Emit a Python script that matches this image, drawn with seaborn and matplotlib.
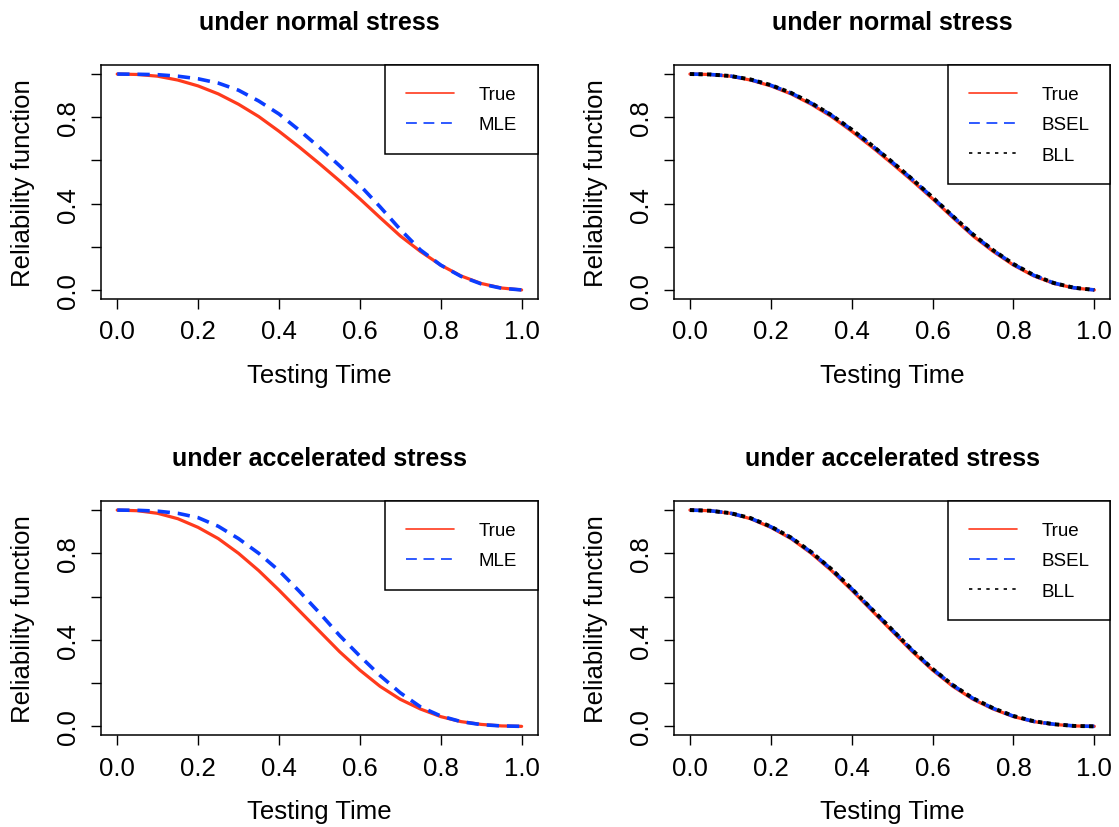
import matplotlib
matplotlib.use("Agg")
import matplotlib.pyplot as plt
import seaborn as sns
import pandas as pd

# testing time grid (every 0.05)
t_grid = [0.00, 0.05, 0.10, 0.15, 0.20, 0.25, 0.30, 0.35, 0.40, 0.45, 0.50,
          0.55, 0.60, 0.65, 0.70, 0.75, 0.80, 0.85, 0.90, 0.95, 1.00]

# under normal stress
normal_true = [1.000, 0.998, 0.990, 0.972, 0.945, 0.908, 0.860, 0.803, 0.735, 0.662, 0.585,
               0.505, 0.422, 0.335, 0.250, 0.178, 0.115, 0.065, 0.030, 0.009, 0.000]
normal_mle = [1.000, 0.999, 0.997, 0.990, 0.978, 0.958, 0.925, 0.875, 0.815, 0.740, 0.660,
              0.575, 0.485, 0.385, 0.280, 0.185, 0.115, 0.063, 0.028, 0.008, 0.000]
normal_bsel = [1.000, 0.998, 0.991, 0.974, 0.948, 0.912, 0.865, 0.809, 0.742, 0.669, 0.592,
               0.512, 0.428, 0.341, 0.256, 0.183, 0.119, 0.068, 0.032, 0.010, 0.000]
normal_bll = [1.000, 0.998, 0.991, 0.975, 0.949, 0.913, 0.866, 0.810, 0.743, 0.670, 0.593,
              0.513, 0.429, 0.342, 0.257, 0.184, 0.120, 0.069, 0.032, 0.010, 0.000]

# under accelerated stress
accel_true = [1.000, 0.997, 0.985, 0.960, 0.920, 0.868, 0.800, 0.720, 0.630, 0.535, 0.440,
              0.345, 0.260, 0.185, 0.125, 0.080, 0.045, 0.022, 0.009, 0.002, 0.000]
accel_mle = [1.000, 0.999, 0.995, 0.985, 0.965, 0.925, 0.868, 0.800, 0.720, 0.625, 0.525,
             0.420, 0.325, 0.235, 0.155, 0.090, 0.048, 0.022, 0.008, 0.002, 0.000]
accel_bsel = [1.000, 0.997, 0.986, 0.962, 0.923, 0.872, 0.805, 0.726, 0.636, 0.541, 0.446,
              0.351, 0.265, 0.190, 0.129, 0.083, 0.047, 0.023, 0.010, 0.002, 0.000]
accel_bll = [1.000, 0.997, 0.986, 0.963, 0.924, 0.873, 0.806, 0.727, 0.637, 0.542, 0.447,
             0.352, 0.266, 0.191, 0.130, 0.084, 0.048, 0.024, 0.010, 0.002, 0.000]

tick_vals = [0.0, 0.2, 0.4, 0.6, 0.8, 1.0]
x_ticklabels = ["0.0", "0.2", "0.4", "0.6", "0.8", "1.0"]
y_ticklabels = ["0.0", "", "0.4", "", "0.8", ""]

RED = "#FF3A1C"
BLUE = "#0B3DFF"

sns.set_style("ticks")
plt.rcParams["font.family"] = ["Liberation Sans", "DejaVu Sans"]
plt.rcParams["text.color"] = "black"
plt.rcParams["axes.labelcolor"] = "black"
plt.rcParams["xtick.color"] = "black"
plt.rcParams["ytick.color"] = "black"

fig = plt.figure(figsize=(11.19, 8.28), dpi=100)

# axes boxes in figure fractions (left, bottom, width, height)
positions = [
    [0.0903, 0.6382, 0.3903, 0.2816],
    [0.6021, 0.6382, 0.3903, 0.2816],
    [0.0903, 0.1111, 0.3903, 0.2821],
    [0.6021, 0.1111, 0.3903, 0.2821],
]

panels = [
    ("under normal stress", [("True", normal_true), ("MLE", normal_mle)]),
    ("under normal stress", [("True", normal_true), ("BSEL", normal_bsel), ("BLL", normal_bll)]),
    ("under accelerated stress", [("True", accel_true), ("MLE", accel_mle)]),
    ("under accelerated stress", [("True", accel_true), ("BSEL", accel_bsel), ("BLL", accel_bll)]),
]

styles = {
    "True": dict(color=RED, linewidth=2.3, linestyle="-"),
    "MLE": dict(color=BLUE, linewidth=2.6, linestyle=(0, (3.4, 2.2))),
    "BSEL": dict(color=BLUE, linewidth=2.6, linestyle=(0, (3.4, 2.2))),
    "BLL": dict(color="black", linewidth=2.8, linestyle=(0, (1.1, 1.1))),
}
# dash patterns of the thin legend keys
legend_dashes = {"True": None, "MLE": (6.5, 4.0), "BSEL": (6.5, 4.0), "BLL": (2.0, 3.2)}

for pos, (title, series) in zip(positions, panels):
    ax = fig.add_axes(pos)
    for name, vals in series:
        df = pd.DataFrame({"time": t_grid, "R": vals})
        sns.lineplot(data=df, x="time", y="R", ax=ax, label=name, **styles[name])

    ax.set_xlim(-0.04, 1.04)
    ax.set_ylim(-0.04, 1.04)
    ax.set_xticks(tick_vals)
    ax.set_xticklabels(x_ticklabels)
    ax.set_yticks(tick_vals)
    ax.set_yticklabels(y_ticklabels, rotation=90, va="center")
    ax.tick_params(axis="both", labelsize=18.5, length=7, width=1, color="black",
                   labelcolor="black", direction="out", pad=8)
    for sp in ax.spines.values():
        sp.set_visible(True)
        sp.set_color("black")
        sp.set_linewidth(1.1)
    ax.set_xlabel("Testing Time", fontsize=18.5, labelpad=14, color="black")
    ax.set_ylabel("Reliability function", fontsize=18.5, labelpad=15, color="black")
    ax.set_title(title, fontsize=18, fontweight="bold", pad=26, color="black")

    leg = ax.legend(loc="upper right", borderaxespad=0, fontsize=13.5,
                    frameon=True, fancybox=False, edgecolor="black", framealpha=1,
                    handlelength=2.6, handletextpad=1.3, borderpad=1.1,
                    labelspacing=0.7)
    leg.get_frame().set_linewidth(1.1)
    for ln, txt in zip(leg.get_lines(), leg.get_texts()):
        ln.set_linewidth(1.2)
        d = legend_dashes[txt.get_text()]
        if d is not None:
            ln.set_dashes(d)
        txt.set_color("black")

plt.savefig("out.png", dpi=100)
